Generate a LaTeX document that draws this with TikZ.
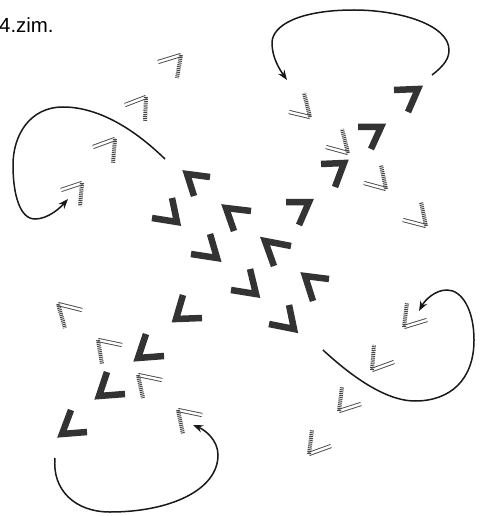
\documentclass[tikz,border=0pt]{standalone}
\usepackage{fontspec}
\setmainfont{Liberation Sans}
\usetikzlibrary{arrows.meta}
\tikzset{
  darkchev/.style={draw=black!80, line width=6.5bp, line join=miter, line cap=butt},
  lightout/.style={draw=black!72, line width=0.9bp, double=white, double distance=2.4bp, line cap=butt},
  lighthatch/.style={draw=black!72, line width=4bp, dash pattern=on 1bp off 0.9bp, line cap=butt},
  turn/.style={draw=black!90, line width=1.5bp, -{Stealth[length=10bp,width=7.5bp]}}
}
\newcommand{\chevD}[3]{\draw[darkchev] #1 -- #2 -- #3;}
\newcommand{\chevL}[3]{\draw[lightout] #1 -- #2; \draw[lighthatch] #2 -- #3;}
\begin{document}
\begin{tikzpicture}[x=1bp,y=-1bp]
\useasboundingbox[fill=white] (0,0) rectangle (488,516);
\node[anchor=base west, inner sep=0pt, font=\fontsize{20.5}{24}\selectfont] (title) at (-1,33) {4.zim.};

% dark chevrons: top-right "7"
\chevD{(394,90)}{(418,89)}{(408,112)}
\chevD{(358,127)}{(381,127)}{(371,149)}
\chevD{(321,164)}{(344,163)}{(335,187)}
\chevD{(286,202)}{(309,202)}{(299,225)}
% centre Gamma
\chevD{(210,177)}{(187,174)}{(194,196)}
\chevD{(251,211)}{(226,208)}{(234,231)}
\chevD{(291,246)}{(265,241)}{(274,266)}
\chevD{(329,279)}{(305,276)}{(313,301)}
% centre J
\chevD{(172,198)}{(177,222)}{(152,218)}
\chevD{(210,234)}{(217,258)}{(191,254)}
\chevD{(250,269)}{(256,294)}{(231,290)}
\chevD{(289,305)}{(294,329)}{(269,324)}
% bottom-left L
\chevD{(183,295)}{(176,319)}{(202,318)}
\chevD{(146,334)}{(138,358)}{(164,356)}
\chevD{(107,372)}{(99,396)}{(125,394)}
\chevD{(71,410)}{(62,434)}{(87,432)}

% light chevrons: top-left "7"
\chevL{(158,62)}{(181,55)}{(177,78)}
\chevL{(125,105)}{(146,97)}{(145,121)}
\chevL{(93,147)}{(115,139)}{(113,163)}
\chevL{(61,190)}{(82,183)}{(80,206)}
% top-right L
\chevL{(289,112)}{(310,117)}{(304,93)}
\chevL{(326,147)}{(348,153)}{(342,129)}
\chevL{(364,183)}{(386,189)}{(381,165)}
\chevL{(403,220)}{(426,226)}{(421,202)}
% bottom-left Gamma
\chevL{(82,310)}{(58,304)}{(65,328)}
\chevL{(122,345)}{(98,340)}{(102,364)}
\chevL{(162,380)}{(138,375)}{(143,398)}
\chevL{(202,415)}{(178,410)}{(183,434)}
% bottom-right L
\chevL{(427,320)}{(404,327)}{(407,303)}
\chevL{(394,362)}{(372,370)}{(374,345)}
\chevL{(361,404)}{(339,411)}{(342,387)}
\chevL{(331,446)}{(309,454)}{(312,430)}

% turning arrows
\coordinate (tlS) at (165,159); \coordinate (tlE) at (68,199);
\draw[turn] (tlS) .. controls (130,125) and (95,107) .. (63,107)
  .. controls (30,107) and (13,135) .. (13,165)
  .. controls (13,195) and (20,219) .. (35,219)
  .. controls (48,219) and (60,208) .. (tlE);
\coordinate (trS) at (432,75); \coordinate (trE) at (287,80);
\draw[turn] (trS) .. controls (445,65) and (449,58) .. (449,50)
  .. controls (449,25) and (400,10) .. (354,10)
  .. controls (300,10) and (272,25) .. (272,43)
  .. controls (272,58) and (280,70) .. (trE);
\coordinate (brS) at (323,350); \coordinate (brE) at (419,311);
\draw[turn] (brS) .. controls (350,375) and (385,401) .. (415,401)
  .. controls (450,401) and (474,380) .. (474,340)
  .. controls (474,310) and (462,290) .. (447,290)
  .. controls (435,290) and (425,300) .. (brE);
\coordinate (blS) at (55,458); \coordinate (blE) at (193,425);
\draw[turn] (blS) .. controls (52,490) and (75,512) .. (110,512)
  .. controls (170,512) and (218,490) .. (218,455)
  .. controls (218,440) and (205,430) .. (blE);
\end{tikzpicture}
\end{document}
